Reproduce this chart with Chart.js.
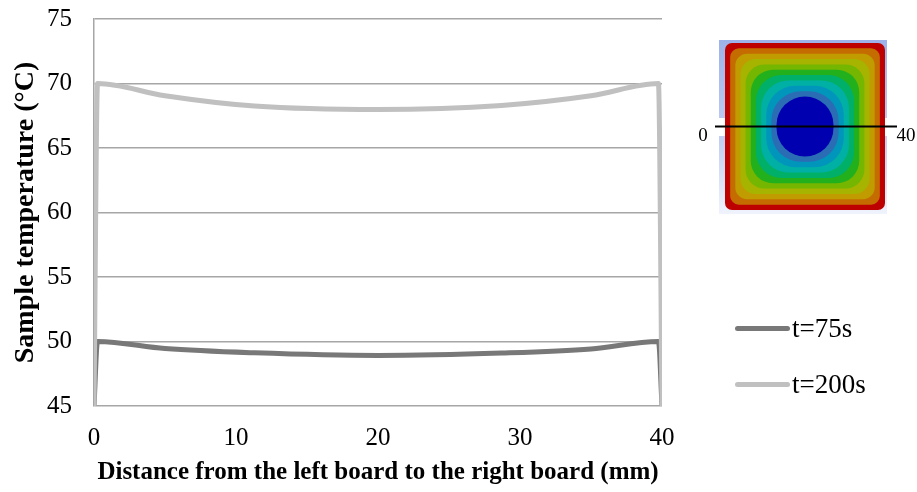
<!DOCTYPE html>
<html>
<head>
<meta charset="utf-8">
<script src="https://cdn.jsdelivr.net/npm/chart.js@4"></script>
<style>
    body { margin: 0; background: #fff; }
    #wrap { position: relative; width: 917px; height: 492px; }
    #chart { position: absolute; left: 0; top: 0; }
    #inset { position: absolute; left: 0; top: 0; pointer-events: none; }
    .legend-item { position: absolute; font-family: "Liberation Serif", serif; font-size: 27px; line-height: 30px; color: #000; display: flex; align-items: center; }
    .legend-item span.swatch { display: inline-block; width: 55px; height: 5px; border-radius: 3px; margin-right: 2px; }
</style>
</head>
<body>
<div id="wrap">
    <canvas id="chart" width="917" height="492"></canvas>
    <canvas id="inset" width="917" height="492"></canvas>
    <div id="legend"></div>
</div>
<script>
// positions along the sample (mm)
const distances = [0, 0.25, 5, 11.3, 20, 28.7, 35, 39.75, 40];
// temperatures (°C)
const temp75 = [45, 50, 49.45, 49.12, 48.92, 49.1, 49.42, 50, 45];
const temp200 = [45, 70, 69.05, 68.25, 67.98, 68.3, 69.05, 70, 45];
const seriesNames = ['t=75s', 't=200s'];
const seriesColors = ['#787878', '#c0c0c0'];
const xTicks = [0, 10, 20, 30, 40];
const yTicks = [45, 50, 55, 60, 65, 70, 75];

const serif = '"Liberation Serif", "Times New Roman", serif';

function toPoints(values) {
    return distances.map((d, i) => ({ x: d, y: values[i] }));
}

const ctx = document.getElementById('chart').getContext('2d');
new Chart(ctx, {
    type: 'line',
    data: {
        datasets: [
            {
                label: seriesNames[1],
                data: toPoints(temp200),
                borderColor: seriesColors[1],
                borderWidth: 5,
                pointRadius: 0,
                cubicInterpolationMode: 'monotone',
                fill: false
            },
            {
                label: seriesNames[0],
                data: toPoints(temp75),
                borderColor: seriesColors[0],
                borderWidth: 5,
                pointRadius: 0,
                cubicInterpolationMode: 'monotone',
                fill: false
            }
        ]
    },
    options: {
        responsive: false,
        animation: false,
        layout: { padding: { top: 19, right: 255, left: 0, bottom: 0 } },
        plugins: { legend: { display: false }, tooltip: { enabled: false } },
        scales: {
            x: {
                type: 'linear',
                min: 0,
                max: 40,
                afterBuildTicks: axis => { axis.ticks = xTicks.map(v => ({ value: v })); },
                afterFit: axis => { axis.height = 86; axis.paddingLeft = 0; axis.paddingRight = 0; },
                grid: { display: false },
                border: { display: false },
                ticks: { color: '#000', font: { family: serif, size: 25 }, padding: 9, maxRotation: 0 },
                title: {
                    display: true,
                    text: 'Distance from the left board to the right board (mm)',
                    color: '#000',
                    font: { family: serif, size: 25, weight: 'bold' },
                    padding: { top: 5 }
                }
            },
            y: {
                min: 45,
                max: 75,
                afterBuildTicks: axis => { axis.ticks = yTicks.map(v => ({ value: v })); },
                afterFit: axis => { axis.width = 94; axis.paddingTop = 0; axis.paddingBottom = 0; },
                grid: { color: '#a6a6a6', lineWidth: 1.5, drawTicks: false },
                border: { display: true, color: '#a6a6a6', width: 1.5 },
                ticks: { color: '#000', font: { family: serif, size: 25 }, padding: 22 },
                title: {
                    display: true,
                    text: 'Sample temperature (°C)',
                    color: '#000',
                    font: { family: serif, size: 28, weight: 'bold' },
                    padding: { top: 9, bottom: 0 }
                }
            }
        }
    }
});

// legend
const legend = document.getElementById('legend');
const legendTops = [313, 369];
seriesNames.forEach((name, i) => {
    const item = document.createElement('div');
    item.className = 'legend-item';
    item.style.left = '735px';
    item.style.top = legendTops[i] + 'px';
    item.innerHTML = `<span class="swatch" style="background:${seriesColors[i]}"></span>${name}`;
    legend.appendChild(item);
});

// inset: temperature contour of the sample cross section
const ic = document.getElementById('inset').getContext('2d');
const bg = ic.createLinearGradient(0, 40, 0, 214);
bg.addColorStop(0, '#9db2ea');
bg.addColorStop(0.6, '#c4d0f2');
bg.addColorStop(1, '#f0f3fc');
ic.fillStyle = bg;
ic.fillRect(719, 40, 168, 174);
ic.fillStyle = '#fff';
ic.fillRect(719, 118, 6, 18);
ic.fillRect(883, 118, 6, 18);

const bandColors = ['#bd0000', '#c46c00', '#c09c00', '#a6b400', '#74b600', '#22b01c', '#00b068',
    '#00b0a4', '#0096bc', '#2b6db4', '#0000b0'];
const cx = 805, cy = 126.5, hw = 80, hh = 83.5;
bandColors.forEach((c, i) => {
    const w = hw - i * 5.15;
    const h = hh - i * 5.35;
    const t = i / 10;
    const r = 7 + (Math.min(w, h) - 7) * Math.pow(t, 1.6);
    ic.beginPath();
    ic.roundRect(cx - w, cy - h, 2 * w, 2 * h, r);
    ic.fillStyle = c;
    ic.fill();
});

ic.strokeStyle = '#000';
ic.lineWidth = 2;
ic.beginPath();
ic.moveTo(715, 126.5);
ic.lineTo(897, 126.5);
ic.stroke();
ic.fillStyle = '#000';
ic.font = '19px ' + serif;
ic.textAlign = 'center';
ic.textBaseline = 'alphabetic';
ic.fillText('0', 703, 141);
ic.fillText('40', 906, 141);
</script>
</body>
</html>
